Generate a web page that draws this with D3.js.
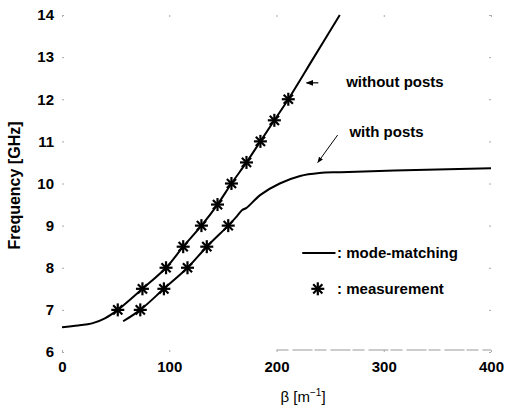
<!DOCTYPE html>
<html>
<head>
<meta charset="utf-8">
<style>
  body { margin: 0; background: #fff; }
  svg { display: block; font-family: "Liberation Sans", Arial, sans-serif; }
  .tick-lbl { font-size: 15px; font-weight: bold; }
  .note { font-size: 15px; font-weight: bold; }
</style>
</head>
<body>
<div id="chart"></div>
<script src="https://d3js.org/d3.v7.min.js"></script>
<script>
// mode-matching curve, without posts
const noPostsBeta = [0, 15, 28, 40, 52, 75, 97, 113, 130, 145, 158, 172, 185, 198, 211, 235, 259];
const noPostsFreq = [6.59, 6.63, 6.68, 6.8, 7.0, 7.5, 8.0, 8.5, 9.0, 9.5, 10.0, 10.5, 11.0, 11.5, 12.0, 13.0, 14.0];

// mode-matching curve, with posts
const postsBeta = [57, 73, 95, 117, 135, 155, 163, 168, 172, 185, 203, 222, 240, 260, 310, 400];
const postsFreq = [6.73, 7.0, 7.5, 8.0, 8.5, 9.0, 9.22, 9.37, 9.42, 9.73, 10.0, 10.18, 10.25, 10.27, 10.31, 10.36];

// measurement points
const measNoPostsBeta = [52, 75, 97, 113, 130, 145, 158, 172, 185, 198, 211];
const measNoPostsFreq = [7.0, 7.5, 8.0, 8.5, 9.0, 9.5, 10.0, 10.5, 11.0, 11.5, 12.0];
const measPostsBeta = [73, 95, 117, 135, 155];
const measPostsFreq = [7.0, 7.5, 8.0, 8.5, 9.0];

const xTicks = [0, 100, 200, 300, 400];
const yTicks = [6, 7, 8, 9, 10, 11, 12, 13, 14];

const width = 507, height = 410;
const margin = { top: 15, right: 16, bottom: 58, left: 62 };

const svg = d3.select('#chart').append('svg')
  .attr('width', width)
  .attr('height', height);

const x = d3.scaleLinear().domain([0, 400]).range([margin.left, width - margin.right]);
const y = d3.scaleLinear().domain([6, 14]).range([height - margin.bottom, margin.top]);

// faint ticks (scanned box has mostly faded)
const tickColor = '#aaa';
function faint(g) {
  g.select('.domain').remove();
  g.selectAll('.tick line').attr('stroke', tickColor);
}

svg.append('g')
  .attr('transform', `translate(${margin.left},0)`)
  .call(d3.axisLeft(y).tickValues(yTicks).tickSize(-2).tickPadding(8).tickFormat(d3.format('d')))
  .call(faint)
  .call(g => g.selectAll('text').attr('class', 'tick-lbl').attr('fill', '#000').style('font-size', null));

svg.append('g')
  .attr('transform', `translate(${width - margin.right},0)`)
  .call(d3.axisRight(y).tickValues(yTicks).tickSize(-2).tickFormat(''))
  .call(faint);

svg.append('g')
  .attr('transform', `translate(0,${y(6)})`)
  .call(d3.axisBottom(x).tickValues(xTicks).tickSize(-2).tickPadding(9).tickFormat(d3.format('d')))
  .call(faint)
  .call(g => g.selectAll('text').attr('class', 'tick-lbl').attr('fill', '#000').style('font-size', null));

svg.append('g')
  .attr('transform', `translate(0,${margin.top})`)
  .call(d3.axisTop(x).tickValues(xTicks).tickSize(-2).tickFormat(''))
  .call(faint);

// remains of the bottom frame line
svg.append('line')
  .attr('x1', x(200)).attr('x2', x(400))
  .attr('y1', y(6) - 2).attr('y2', y(6) - 2)
  .attr('stroke', '#999')
  .attr('stroke-width', 1)
  .attr('stroke-dasharray', '12,4,20,2');

// axis labels
svg.append('text')
  .attr('transform', `translate(20,${(y(6) + y(14)) / 2 + 2}) rotate(-90)`)
  .attr('text-anchor', 'middle')
  .style('font-size', '16px')
  .style('font-weight', 'bold')
  .text('Frequency [GHz]');

const xl = svg.append('text')
  .attr('x', x(200) + 4)
  .attr('y', 402)
  .style('font-size', '15px');
xl.append('tspan').text('β [m');
xl.append('tspan').attr('dy', -6).style('font-size', '10px').text('−1');
xl.append('tspan').attr('dy', 6).text(']');

// curves
const line = d3.line()
  .x(d => x(d[0]))
  .y(d => y(d[1]))
  .curve(d3.curveCatmullRom.alpha(0.5));

svg.append('path')
  .datum(d3.zip(noPostsBeta, noPostsFreq))
  .attr('fill', 'none').attr('stroke', '#000').attr('stroke-width', 2)
  .attr('d', line);

svg.append('path')
  .datum(d3.zip(postsBeta, postsFreq))
  .attr('fill', 'none').attr('stroke', '#000').attr('stroke-width', 2)
  .attr('d', line);

// asterisk marker
function star(g, cx, cy, r) {
  for (let k = 0; k < 4; k++) {
    const a = k * Math.PI / 4;
    g.append('line')
      .attr('x1', cx - r * Math.cos(a)).attr('y1', cy - r * Math.sin(a))
      .attr('x2', cx + r * Math.cos(a)).attr('y2', cy + r * Math.sin(a))
      .attr('stroke', '#000').attr('stroke-width', 2.2);
  }
}

const stars = svg.append('g');
d3.zip(measNoPostsBeta, measNoPostsFreq).concat(d3.zip(measPostsBeta, measPostsFreq))
  .forEach(d => star(stars, x(d[0]), y(d[1]), 6.5));

// annotations
const defs = svg.append('defs');
defs.append('marker')
  .attr('id', 'head')
  .attr('viewBox', '0 0 10 10')
  .attr('refX', 9).attr('refY', 5)
  .attr('markerWidth', 6).attr('markerHeight', 6)
  .attr('orient', 'auto')
  .append('path').attr('d', 'M0,1 L10,5 L0,9 z').attr('fill', '#000');

svg.append('line')
  .attr('x1', x(239)).attr('y1', y(12.39))
  .attr('x2', x(228)).attr('y2', y(12.39))
  .attr('stroke', '#000').attr('stroke-width', 1.2)
  .attr('marker-end', 'url(#head)');

svg.append('text').attr('class', 'note')
  .attr('x', x(265)).attr('y', y(12.3))
  .text('without posts');

svg.append('line')
  .attr('x1', x(257)).attr('y1', y(11.15))
  .attr('x2', x(238.5)).attr('y2', y(10.5))
  .attr('stroke', '#000').attr('stroke-width', 1)
  .attr('marker-end', 'url(#head)');

svg.append('text').attr('class', 'note')
  .attr('x', x(268)).attr('y', y(11.1))
  .text('with posts');

// legend
svg.append('line')
  .attr('x1', x(224)).attr('x2', x(255))
  .attr('y1', y(8.35)).attr('y2', y(8.35))
  .attr('stroke', '#000').attr('stroke-width', 2);
svg.append('text').attr('class', 'note')
  .attr('x', x(256.5)).attr('y', y(8.35) + 5)
  .text(': mode-matching');

star(svg, x(238.5), y(7.5), 6.5);
svg.append('text').attr('class', 'note')
  .attr('x', x(256.5)).attr('y', y(7.5) + 5)
  .text(': measurement');
</script>
</body>
</html>
